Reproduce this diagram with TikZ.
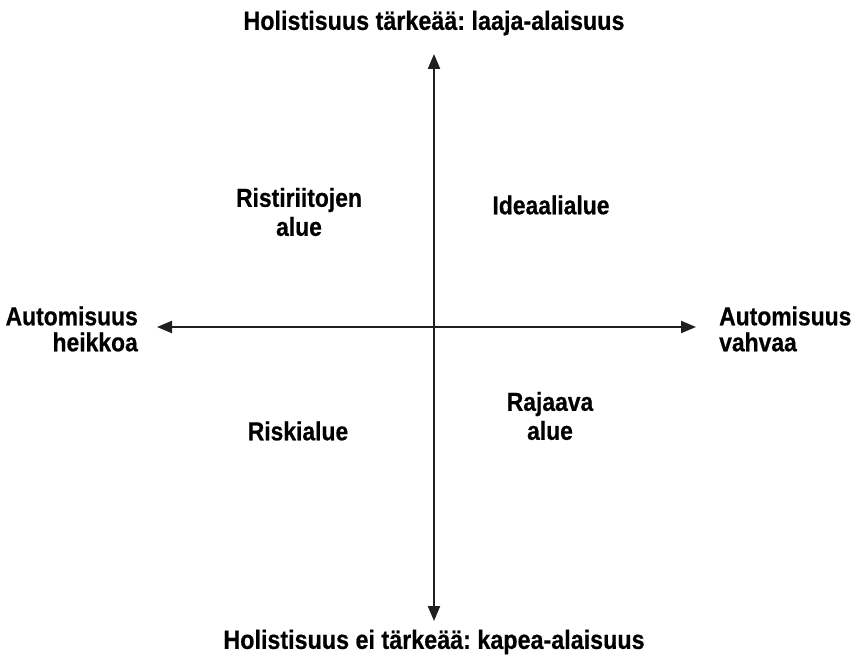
\documentclass[tikz,border=0pt]{standalone}
\usepackage{fontspec}
\setmainfont{Liberation Sans}[FakeStretch=0.88]
\newfontfamily\lblfont{Liberation Sans}[FakeStretch=0.88, FakeBold=0.5]
\usetikzlibrary{arrows.meta}
\frenchspacing
\tikzset{
  lbl/.style={font=\frenchspacing\lblfont\fontsize{26}{29}\selectfont\bfseries, align=center, inner sep=0pt, text=black},
  side/.style={font=\lblfont\fontsize{26}{26}\selectfont\bfseries, inner sep=0pt, text=black},
  ttl/.style={font=\frenchspacing\lblfont\fontsize{26.5}{29}\selectfont\bfseries, inner sep=0pt, text=black},
  axis/.style={line width=2.2pt, draw=black!88, {Triangle[length=15pt,width=12pt]}-{Triangle[length=15pt,width=12pt]}}
}
\begin{document}
\begin{tikzpicture}[x=1pt,y=-1pt]
\useasboundingbox (0,0) rectangle (853,671);
\coordinate (top) at (434,54);
\coordinate (bot) at (434,621);
\coordinate (lft) at (157,327);
\coordinate (rgt) at (696,327);
\draw[axis] (bot) -- (top);
\draw[axis] (lft) -- (rgt);
\node[ttl] (t) at (434,23) {Holistisuus tärkeää: laaja-alaisuus};
\node[ttl] (b) at (434,642) {Holistisuus ei tärkeää: kapea-alaisuus};
\node[side, align=right, anchor=east] (l) at (138,329) {Automisuus\\heikkoa};
\node[side, align=left, anchor=west] (r) at (719,329) {Automisuus\\vahvaa};
\node[lbl] (q1) at (299,212) {Ristiriitojen\\alue};
\node[lbl] (q2) at (551,205) {Ideaalialue};
\node[lbl] (q3) at (298,431) {Riskialue};
\node[lbl] (q4) at (550,416) {Rajaava\\alue};
\end{tikzpicture}
\end{document}
